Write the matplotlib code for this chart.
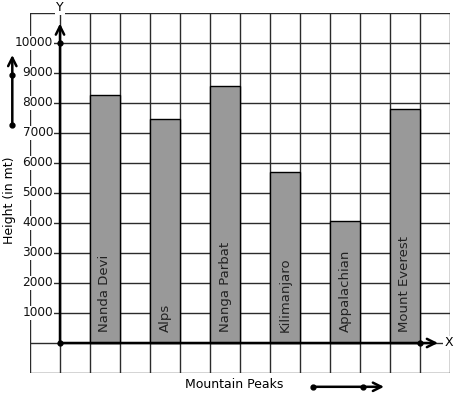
'''
    Bar chart of mountain peak heights drawn on a square grid.
'''
import matplotlib
matplotlib.use('Agg')
import matplotlib.pyplot as plt

peaks = ['Nanda Devi', 'Alps', 'Nanga Parbat', 'Kilimanjaro', 'Appalachian', 'Mount Everest']
heights = [8280, 7460, 8570, 5700, 4070, 7800]
y_ticks = [1000, 2000, 3000, 4000, 5000, 6000, 7000, 8000, 9000, 10000]

GRID = '#2b2b2b'
BAR = '#999999'


def arrow(ax, start, end, dots):
    """Draws a line with an open arrow head and dots on it."""
    ax.annotate('', xy=end, xytext=start, annotation_clip=False,
                arrowprops=dict(arrowstyle='->,head_length=0.6,head_width=0.3',
                                lw=1.8, color='k', shrinkA=0, shrinkB=0))
    for px, py in dots:
        ax.plot(px, py, 'o', color='k', ms=3.5, clip_on=False, zorder=5)


def main():
    fig = plt.figure(figsize=(4.57, 3.99), dpi=100)
    ax = fig.add_axes([30 / 457, 26 / 399, 420 / 457, 360 / 399])
    ax.set_xlim(-1, 13)
    ax.set_ylim(-1000, 11000)
    ax.axis('off')

    # grid
    for gx in range(-1, 14):
        ax.axvline(gx, color=GRID, lw=1, zorder=1)
    for gy in range(-1000, 11001, 1000):
        ax.axhline(gy, color=GRID, lw=1, zorder=1)

    positions = [1.5 + 2 * i for i in range(len(peaks))]
    ax.bar(positions, heights, width=1, color=BAR, edgecolor='k', lw=1, zorder=2)
    for pos, name in zip(positions, peaks):
        ax.text(pos, 370, name, rotation=90, ha='center', va='bottom',
                fontsize=9.5, color='#222222', zorder=3)

    for val in y_ticks:
        ax.text(-0.23, val, str(val), ha='right', va='center', fontsize=8.7,
                color='#111111', zorder=3,
                bbox=dict(facecolor='white', edgecolor='none', pad=0.6))

    # axes with arrows
    arrow(ax, (0, 0), (0, 10650), [(0, 0), (0, 10000)])
    arrow(ax, (0, 0), (12.6, 0), [(12, 0)])
    ax.text(0, 11170, 'Y', ha='center', va='center', fontsize=9,
            bbox=dict(facecolor='white', edgecolor='none', pad=0.5), zorder=4)
    ax.text(12.95, 0, 'X', ha='center', va='center', fontsize=9,
            bbox=dict(facecolor='white', edgecolor='none', pad=0.5), zorder=4)

    ax.text(-1.67, 4750, 'Height (in mt)', rotation=90, ha='center', va='center',
            fontsize=9, clip_on=False)
    ax.text(4.17, -1400, 'Mountain Peaks', ha='left', va='center', fontsize=9,
            clip_on=False)

    # direction arrows
    arrow(ax, (-1.59, 7270), (-1.59, 9600), [(-1.59, 7270), (-1.59, 8930)])
    arrow(ax, (8.42, -1460), (10.8, -1460), [(8.42, -1460), (10.1, -1460)])

    fig.savefig('out.png', dpi=100)


if __name__ == '__main__':
    main()
